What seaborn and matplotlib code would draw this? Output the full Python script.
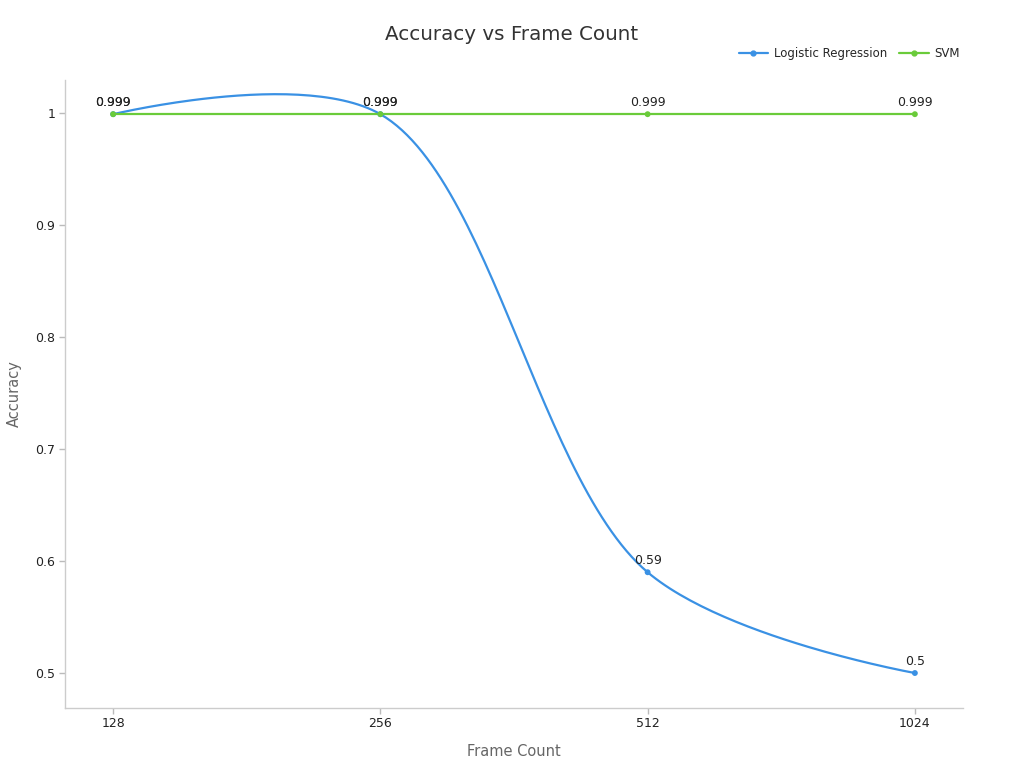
import matplotlib
matplotlib.use("Agg")
import matplotlib.pyplot as plt
from matplotlib.lines import Line2D
import numpy as np
import pandas as pd
import seaborn as sns

# chart data
frame_counts = ["128", "256", "512", "1024"]
logreg_acc = [0.999, 0.999, 0.59, 0.5]
svm_acc = [0.999, 0.999, 0.999, 0.999]
y_ticks = [0.5, 0.6, 0.7, 0.8, 0.9, 1.0]
y_tick_labels = ["0.5", "0.6", "0.7", "0.8", "0.9", "1"]

blue = "#3a91e4"
green = "#6acb3a"


def catmull_rom(ax, x, y, alpha=0.5, n=60):
    # centripetal catmull-rom through the points, done in screen space (rendering only)
    P = ax.transData.transform(np.column_stack([x, y]))
    t = np.linspace(0, 1, n)[:, None]
    out = []
    for i in range(len(P) - 1):
        p1, p2 = P[i], P[i + 1]
        l12 = np.linalg.norm(p2 - p1)
        c1, c2 = p1.copy(), p2.copy()
        if i > 0:
            p0 = P[i - 1]
            l01 = np.linalg.norm(p1 - p0)
            a = 2 * l01**(2 * alpha) + 3 * l01**alpha * l12**alpha + l12**(2 * alpha)
            nn = 3 * l01**alpha * (l01**alpha + l12**alpha)
            c1 = (p1 * a - p0 * l12**(2 * alpha) + p2 * l01**(2 * alpha)) / nn
        if i + 2 < len(P):
            p3 = P[i + 2]
            l23 = np.linalg.norm(p3 - p2)
            b = 2 * l23**(2 * alpha) + 3 * l23**alpha * l12**alpha + l12**(2 * alpha)
            m = 3 * l23**alpha * (l23**alpha + l12**alpha)
            c2 = (p2 * b + p1 * l23**(2 * alpha) - p3 * l12**(2 * alpha)) / m
        seg = ((1 - t)**3 * p1 + 3 * (1 - t)**2 * t * c1
               + 3 * (1 - t) * t**2 * c2 + t**3 * p2)
        out.append(seg)
    pts = ax.transData.inverted().transform(np.vstack(out))
    return pts[:, 0], pts[:, 1]


sns.set_style("ticks")
plt.rcParams["font.family"] = ["DejaVu Sans"]

fig = plt.figure(figsize=(10.24, 7.68), dpi=100)
ax = fig.add_axes([0.0635, 0.0781, 0.8769, 0.8177])
ax.set_xlim(-0.18, 3.18)
ax.set_ylim(0.46875, 1.0295)

pos = np.arange(len(frame_counts))
sx, sy = catmull_rom(ax, pos, logreg_acc)
curve = pd.DataFrame({"x": sx, "y": sy})
sns.lineplot(data=curve, x="x", y="y", ax=ax, color=blue, linewidth=1.6, sort=False)
sns.lineplot(x=pos, y=svm_acc, ax=ax, color=green, linewidth=1.6)
sns.scatterplot(x=pos, y=logreg_acc, ax=ax, color=blue, s=18, edgecolor="none", zorder=5)
sns.scatterplot(x=pos, y=svm_acc, ax=ax, color=green, s=18, edgecolor="none", zorder=6)

for xi, v in zip(pos, logreg_acc):
    ax.annotate(f"{v:g}", (xi, v), xytext=(0, 3.5), textcoords="offset points",
                ha="center", va="bottom", fontsize=9, color="#222222")
for xi, v in zip(pos, svm_acc):
    ax.annotate(f"{v:g}", (xi, v), xytext=(0, 3.5), textcoords="offset points",
                ha="center", va="bottom", fontsize=9, color="#222222")

ax.set_xlim(-0.18, 3.18)
ax.set_ylim(0.46875, 1.0295)
ax.set_xticks(pos)
ax.set_xticklabels(frame_counts)
ax.set_yticks(y_ticks)
ax.set_yticklabels(y_tick_labels)
ax.tick_params(axis="both", labelsize=9, labelcolor="#222222", color="#bbbbbb",
               length=4, width=1, direction="out", pad=3, left=True, bottom=True)
ax.tick_params(axis="x", pad=2.5)

for s in ["top", "right"]:
    ax.spines[s].set_visible(False)
for s in ["left", "bottom"]:
    ax.spines[s].set_color("#cccccc")
    ax.spines[s].set_linewidth(1)

ax.set_xlabel("Frame Count", fontsize=10.5, color="#666666", labelpad=10)
ax.set_ylabel("Accuracy", fontsize=10.5, color="#666666", labelpad=10)

fig.suptitle("Accuracy vs Frame Count", x=0.5, y=0.968, fontsize=14.3, color="#333333")

handles = [
    Line2D([0], [0], color=blue, lw=1.6, marker="o", markersize=3.5),
    Line2D([0], [0], color=green, lw=1.6, marker="o", markersize=3.5),
]
fig.legend(handles, ["Logistic Regression", "SVM"], loc="center right",
           bbox_to_anchor=(0.948, 0.930), ncol=2, frameon=False, fontsize=8.5,
           handlelength=2.5, handletextpad=0.5, columnspacing=1.0)

fig.savefig("out.png", dpi=100)
